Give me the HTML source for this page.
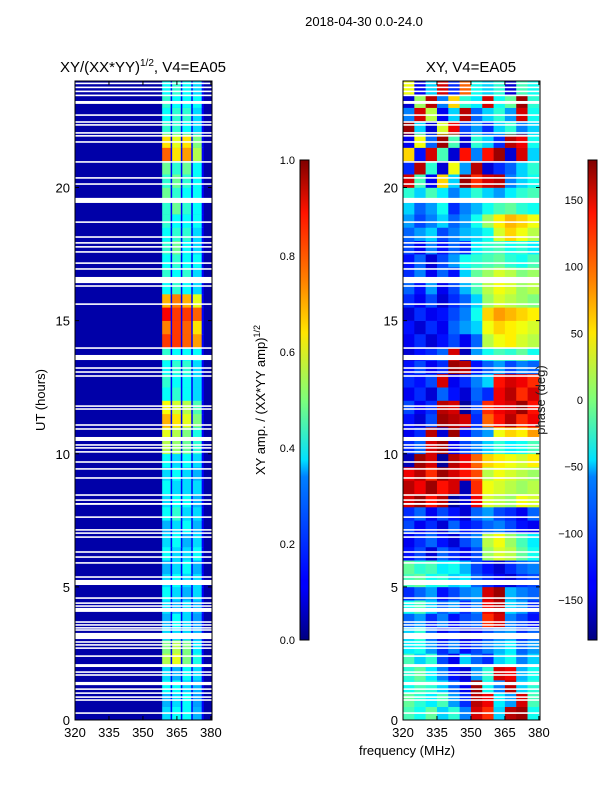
<!DOCTYPE html>
<html><head><meta charset="utf-8"><style>
body{margin:0;background:#fff;}
svg{display:block;font-family:"Liberation Sans","DejaVu Sans",sans-serif;}
</style></head><body>
<svg id="fig" width="600" height="800" viewBox="0 0 600 800">
<defs>
<linearGradient id="jet" x1="0" y1="1" x2="0" y2="0">
<stop offset="0" stop-color="#000080"/><stop offset="0.11" stop-color="#0000ff"/><stop offset="0.125" stop-color="#0000ff"/>
<stop offset="0.34" stop-color="#0080ff"/><stop offset="0.375" stop-color="#00e0ff"/><stop offset="0.5" stop-color="#7dff7a"/>
<stop offset="0.64" stop-color="#ffe600"/><stop offset="0.75" stop-color="#ff8000"/><stop offset="0.89" stop-color="#ff1300"/><stop offset="1" stop-color="#800000"/>
</linearGradient>
<clipPath id="clipL"><rect x="75" y="81" width="137" height="639"/></clipPath>
<clipPath id="clipR"><rect x="403" y="81" width="137" height="639"/></clipPath>
</defs>
<text x="364" y="26" font-size="13" text-anchor="middle">2018-04-30 0.0-24.0</text>
<text x="143" y="72" font-size="15" text-anchor="middle">XY/(XX*YY)<tspan font-size="10" dy="-6">1/2</tspan><tspan dy="6">, V4=EA05</tspan></text>
<text x="471" y="72" font-size="15" text-anchor="middle">XY, V4=EA05</text>
<g id="L" clip-path="url(#clipL)"></g>
<g id="R" clip-path="url(#clipR)"></g>
<g id="axes"></g>
<rect x="300" y="160" width="9" height="480" fill="url(#jet)" stroke="#000" stroke-width="1"/>
<rect x="588" y="160" width="9" height="480" fill="url(#jet)" stroke="#000" stroke-width="1"/>
<text transform="translate(265,400) rotate(-90)" font-size="13" text-anchor="middle">XY amp. / (XX*YY amp)<tspan font-size="9" dy="-5">1/2</tspan></text>
<text transform="translate(545,400) rotate(-90)" font-size="13" text-anchor="middle" fill="#222">phase (deg)</text>
<text transform="translate(45,400) rotate(-90)" font-size="13" text-anchor="middle">UT (hours)</text>
<text x="407" y="755" font-size="13" text-anchor="middle">frequency (MHz)</text>
</svg>
<script>
const NS="http://www.w3.org/2000/svg";
const xTicks=[320,335,350,365,380];
const yTicks=[0,5,10,15,20];
const ampTicks=[0.0,0.2,0.4,0.6,0.8,1.0];
const phaseTicks=[-150,-100,-50,0,50,100,150];
const ampBackground=0.04;
const ampColumnGap=0.12;
const bandEdges=[358.5,362.9,367.4,372.0,376.6];
// amplitude of 4 bright frequency columns, one row per half hour (0h..24h)
const ampBand=[
[0.34,0.38,0.38,0.30],[0.30,0.34,0.38,0.28],[0.38,0.38,0.34,0.30],[0.34,0.30,0.38,0.34],
[0.55,0.60,0.50,0.40],[0.50,0.55,0.50,0.36],[0.34,0.34,0.34,0.30],[0.30,0.38,0.34,0.28],
[0.34,0.30,0.34,0.30],[0.38,0.34,0.30,0.34],[0.34,0.38,0.34,0.34],[0.30,0.34,0.38,0.30],
[0.38,0.34,0.34,0.38],[0.34,0.38,0.30,0.34],[0.30,0.34,0.38,0.30],[0.38,0.42,0.34,0.34],
[0.34,0.38,0.38,0.30],[0.38,0.34,0.34,0.34],[0.34,0.38,0.34,0.30],[0.38,0.34,0.38,0.34],
[0.55,0.52,0.48,0.42],[0.60,0.55,0.50,0.40],[0.70,0.65,0.60,0.50],[0.62,0.58,0.55,0.45],
[0.38,0.42,0.38,0.34],[0.42,0.38,0.38,0.34],[0.38,0.42,0.42,0.34],[0.42,0.38,0.38,0.38],
[0.82,0.82,0.78,0.72],[0.75,0.82,0.78,0.65],[0.88,0.82,0.82,0.78],[0.70,0.75,0.70,0.60],
[0.38,0.42,0.38,0.34],[0.42,0.38,0.42,0.34],[0.38,0.42,0.38,0.38],[0.42,0.48,0.38,0.34],
[0.38,0.42,0.42,0.34],[0.42,0.38,0.38,0.38],[0.42,0.48,0.42,0.38],[0.48,0.42,0.38,0.38],
[0.42,0.48,0.42,0.38],[0.48,0.42,0.48,0.38],[0.78,0.65,0.72,0.55],[0.65,0.60,0.65,0.50],
[0.42,0.42,0.38,0.34],[0.38,0.42,0.42,0.34],[0.42,0.38,0.38,0.38],[0.38,0.42,0.38,0.34]];
// phase in degrees, 12 frequency bins of 5 MHz (320..380), one row per half hour
const phaseGrid=[
[-20,-40,-10,-60,-30,-90,150,120,-60,160,170,-40],[-10,-30,-50,-20,-80,-120,160,140,-50,-80,150,-20],
[-40,-20,-30,-60,-100,-140,170,-40,-90,160,-60,-30],[-30,-10,-50,-90,-130,-150,-80,-30,150,140,-70,-40],
[-20,-60,-30,-110,-140,-60,-100,-120,-60,-40,-90,-60],[-50,-40,-80,-120,-90,-130,-110,-90,-70,-50,-100,-80],
[-60,-30,-100,-140,-120,-150,-140,-110,-90,-80,-120,-100],[-100,-80,-120,-90,-130,-110,-100,120,150,-90,-110,-130],
[-40,-20,-60,-100,-80,-120,-90,140,160,-60,-80,-120],[-120,-100,-80,-130,-110,-90,-80,150,170,-70,-90,-100],
[-20,-10,-40,-30,-60,-50,-100,-120,-140,-150,-120,-110],[-10,-30,-20,-50,-40,-70,-110,-130,-150,-120,-100,-90],
[-130,-110,-150,-100,-120,-140,-110,10,30,20,-10,-40],[-140,-120,-100,-130,-150,-110,-90,20,40,10,-20,-50],
[-110,-140,-120,-150,-100,-130,-120,-100,-90,-110,-130,-140],[-120,-100,-140,-110,-130,-150,-100,-80,-110,-120,-140,-100],
[150,170,130,160,-170,-150,140,30,20,10,40,30],[160,140,170,130,150,-160,120,40,30,20,10,20],
[140,160,120,170,150,130,110,20,40,30,20,10],[-160,170,150,-170,160,140,100,60,50,40,30,50],
[-120,-100,150,170,-140,-110,-90,-60,-30,-50,-40,-20],[-140,-120,160,-150,170,-130,-100,-80,40,60,50,80],
[-130,-150,-110,170,160,150,-120,100,130,160,120,140],[-110,-140,-120,160,150,-170,-110,120,140,150,170,130],
[-140,-120,-150,-100,-130,-150,-100,-120,140,160,120,150],[-120,-130,-110,150,-140,-120,-90,-60,130,150,140,120],
[-130,-110,-140,-120,170,160,-130,-100,-80,-110,-90,-100],[-150,-130,-120,-100,150,-160,-80,-40,-20,-30,-10,-40],
[-140,-120,-150,-130,-110,-140,-100,20,40,50,30,20],[-130,-150,-120,-140,-100,-80,-60,40,60,50,40,30],
[-150,-120,-140,-130,-110,-90,-40,60,80,70,60,50],[-120,-140,-110,-150,-120,-100,-60,10,30,20,10,0],
[-100,-130,-80,-140,-110,-70,-20,20,40,30,10,20],[-120,-90,-140,-100,-130,-60,-10,10,30,20,0,10],
[-130,-100,-150,-110,-80,-40,-30,-20,-10,-30,-40,-20],[-110,-140,-90,-130,-100,-120,-50,-30,-20,-40,-30,-50],
[-100,-80,-60,-110,-90,-70,-60,-40,30,60,40,20],[-80,-110,-90,-60,-100,-80,-40,10,50,70,60,40],
[-60,-100,-80,-40,-120,-90,-70,-40,-20,-10,-30,-40],[-30,-60,-20,-50,-90,-60,-30,-60,-80,-50,-30,-20],
[150,-20,-140,60,-60,170,120,150,160,-90,-60,-40],[-120,160,-30,-150,40,-80,160,-150,-120,-100,-60,-30],
[60,-130,150,-20,-150,130,-90,130,170,-150,150,-60],[-140,40,-100,170,-20,-150,-30,-60,-120,160,140,-40],
[170,-60,-150,30,140,-110,-80,-120,-60,-30,-90,-60],[-90,150,20,-140,-60,160,-100,-60,-30,-80,150,-40],
[-150,10,160,-90,60,-30,-50,150,-40,-10,170,-30],[40,-140,-60,150,-120,100,-40,-60,-30,-150,-20,-40]];
// flagged (white) time ranges: [start hour, end hour]
const gaps=[[23.88,23.94],[23.73,23.79],[23.58,23.64],[23.43,23.49],[23.14,23.25],[22.69,22.75],[22.43,22.49],[22.32,22.38],
[22.02,22.08],[21.91,21.97],[21.68,21.74],[20.93,20.99],[20.33,20.39],[20.10,20.16],[19.42,19.61],[18.67,18.73],[18.11,18.17],
[17.89,17.95],[17.74,17.80],[17.55,17.61],[17.13,17.19],[16.91,16.97],[16.41,16.64],[16.27,16.33],[15.59,15.65],[13.94,14.00],
[13.52,13.71],[13.19,13.25],[13.04,13.10],[12.89,12.95],[11.76,11.82],[11.65,11.71],[11.05,11.11],[10.90,10.96],[10.48,10.63],
[10.30,10.36],[10.19,10.25],[10.04,10.10],[9.66,9.72],[9.40,9.46],[9.06,9.12],[8.42,8.48],[8.23,8.29],[8.08,8.15],[7.59,7.65],
[7.11,7.17],[6.99,7.05],[6.84,6.90],[6.28,6.34],[6.09,6.15],[5.87,5.93],[5.34,5.40],[5.07,5.26],[4.55,4.61],[4.36,4.42],
[4.25,4.31],[4.06,4.21],[3.65,3.71],[3.54,3.60],[3.43,3.49],[3.35,3.41],[3.04,3.27],[2.90,2.96],[2.79,2.85],[2.67,2.73],
[2.37,2.43],[1.99,2.10],[1.77,1.83],[1.66,1.72],[1.31,1.43],[1.13,1.19],[0.98,1.04],[0.83,0.89],[0.72,0.78],[0.23,0.29]];

const F0=320,F1=380.5,PY0=81,PY1=720,PW=137;
function xs(x0,f){return x0+(f-F0)/(F1-F0)*PW;}
function ys(t){return PY1-(t/24)*(PY1-PY0);}
function jet(v){v=Math.max(0,Math.min(1,v));
 const c=x=>Math.round(255*Math.max(0,Math.min(1,x)));
 return `rgb(${c(1.5-Math.abs(4*v-3))},${c(1.5-Math.abs(4*v-2))},${c(1.5-Math.abs(4*v-1))})`;}
function mk(parent,tag,attrs){const e=document.createElementNS(NS,tag);for(const k in attrs)e.setAttribute(k,attrs[k]);parent.appendChild(e);return e;}

const L=document.getElementById('L'),R=document.getElementById('R'),A=document.getElementById('axes');
let bg=mk(L,'rect',{x:75,y:81,width:137,height:639,fill:jet(ampBackground)});


const nr=ampBand.length;
ampBand.forEach((row,i)=>{
 const t0=i*24/nr,t1=(i+1)*24/nr;
 row.forEach((v,j)=>{
  const xa=xs(75,bandEdges[j]),xb=xs(75,bandEdges[j+1]);
  let r=mk(L,'rect',{x:xa,y:ys(t1),width:xb-xa,height:ys(t0)-ys(t1)+0.3,fill:jet(v)});
  
  
  let g=mk(L,'rect',{x:xb-1.5,y:ys(t1),width:2.2,height:ys(t0)-ys(t1)+0.3,fill:jet(ampColumnGap)});
  
  
 });
});
const nrp=phaseGrid.length;
phaseGrid.forEach((row,i)=>{
 const t0=i*24/nrp,t1=(i+1)*24/nrp;
 row.forEach((v,j)=>{
  const fa=F0+j*5,fb=fa+5;
  const xa=xs(403,fa),xb=xs(403,fb);
  let r=mk(R,'rect',{x:xa,y:ys(t1),width:xb-xa+0.3,height:ys(t0)-ys(t1)+0.3,fill:jet((v+180)/360)});
  
  
 });
});
gaps.forEach(g=>{
 [[L,75],[R,403]].forEach(([P,x0])=>{
  let r=mk(P,'rect',{x:x0,y:ys(g[1]),width:PW,height:Math.max(1.4,ys(g[0])-ys(g[1])),fill:'#fff'});
  
  
 });
});
[75,403].forEach((x0,pi)=>{
 let fr=mk(A,'rect',{x:x0,y:PY0,width:PW,height:PY1-PY0,fill:'none',stroke:'#000','stroke-width':1});
 
 
 xTicks.forEach(f=>{const x=xs(x0,f);
  mk(A,'line',{x1:x,y1:PY1,x2:x,y2:PY1-4,stroke:'#000'});
  mk(A,'line',{x1:x,y1:PY0,x2:x,y2:PY0+4,stroke:'#000'});
  let t=mk(A,'text',{x:x,y:737,'font-size':13,'text-anchor':'middle'});t.textContent=f;
  
  
 });
 yTicks.forEach(h=>{const y=ys(h);
  mk(A,'line',{x1:x0,y1:y,x2:x0+4,y2:y,stroke:'#000'});
  mk(A,'line',{x1:x0+PW,y1:y,x2:x0+PW-4,y2:y,stroke:'#000'});
  let t=mk(A,'text',{x:x0-5,y:y+5,'font-size':13,'text-anchor':'end'});t.textContent=h;
  
  
 });
});
ampTicks.forEach(v=>{const y=640-v*480;
 mk(A,'line',{x1:300,y1:y,x2:303,y2:y,stroke:'#000'});
 let t=mk(A,'text',{x:295,y:y+4,'font-size':11,'text-anchor':'end'});t.textContent=v.toFixed(1);
 
 
});
phaseTicks.forEach(v=>{const y=400-v*480/360;
 mk(A,'line',{x1:588,y1:y,x2:591,y2:y,stroke:'#000'});
 let t=mk(A,'text',{x:583,y:y+4,'font-size':11,'text-anchor':'end'});t.textContent=v<0?'\u2212'+(-v):v;
 
 
});
</script>
</body></html>
